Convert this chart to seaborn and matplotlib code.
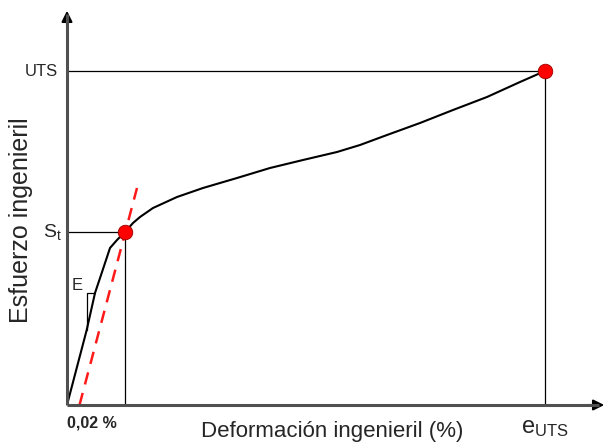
import numpy as np
import pandas as pd
import matplotlib
matplotlib.use("Agg")
import matplotlib.pyplot as plt
import seaborn as sns

# ---- data (arbitrary units) ----
strain = [0.0, 0.197, 0.28, 0.347, 0.43, 0.50, 0.58, 0.66, 0.73, 0.86, 1.10, 1.36, 1.70,
          2.03, 2.36, 2.70, 2.93, 3.20, 3.53, 3.86, 4.20, 4.53, 4.78]
stress = [0.0, 0.75, 1.12, 1.32, 1.57, 1.65, 1.73, 1.82, 1.88, 1.97, 2.08, 2.17, 2.27,
          2.37, 2.45, 2.53, 2.60, 2.70, 2.82, 2.95, 3.08, 3.23, 3.34]
key_names = ["St", "UTS"]
key_strain = [0.58, 4.78]
key_stress = [1.73, 3.34]
offset_x = [0.125, 0.70]
offset_y = [0.0, 2.17]
tri_x = [0.203, 0.203, 0.28]
tri_y = [0.75, 1.12, 1.12]

sns.set_style("white")
plt.rcParams['font.family'] = ['Liberation Sans', 'DejaVu Sans']
plt.rcParams['mathtext.fontset'] = 'custom'
plt.rcParams['mathtext.rm'] = 'Liberation Sans'

fig = plt.figure(figsize=(6.08, 4.45), dpi=100)
ax = fig.add_axes([67/608, 40/445, (607-67)/608, (405-8)/445])
ax.set_xlim(0, 5.40)
ax.set_ylim(0, 3.97)
for s in ax.spines.values():
    s.set_visible(False)
ax.set_xticks([])
ax.set_yticks([])

# guide lines
for xs, ys in zip(key_strain, key_stress):
    ax.plot([0, xs], [ys, ys], color='black', lw=0.9, zorder=2)
    ax.plot([xs, xs], [0, ys], color='black', lw=0.9, zorder=2)

# triangle for modulus
ax.plot(tri_x, tri_y, color='black', lw=0.9, zorder=2)

# 0.02% offset line
ax.plot(offset_x, offset_y, color='#ff1a1a', lw=1.8, dashes=(5, 3.5), zorder=3)

# curve
df = pd.DataFrame({"strain": strain, "stress": stress})
sns.lineplot(data=df, x="strain", y="stress", sort=False, estimator=None,
             color='black', lw=1.5, ax=ax, zorder=4)

# key points
kp = pd.DataFrame({"strain": key_strain, "stress": key_stress, "name": key_names})
sns.scatterplot(data=kp, x="strain", y="stress", color='red', s=110,
                edgecolor='#990000', linewidth=0.6, ax=ax, zorder=5)
ax.set_xlabel("")
ax.set_ylabel("")

# axes with arrows
ax.plot([0, 0], [0, 0.985], transform=ax.transAxes, color='#505050', lw=2.2,
        clip_on=False, zorder=6, solid_capstyle='butt')
ax.plot([0, 0.985], [0, 0], transform=ax.transAxes, color='#505050', lw=2.2,
        clip_on=False, zorder=6, solid_capstyle='butt')
ax.annotate('', xy=(0, 1.0), xytext=(0, 0.95), xycoords='axes fraction',
            arrowprops=dict(arrowstyle='-|>', color='black', lw=1.5, mutation_scale=16),
            annotation_clip=False)
ax.annotate('', xy=(1.0, 0), xytext=(0.96, 0), xycoords='axes fraction',
            arrowprops=dict(arrowstyle='-|>', color='black', lw=1.5, mutation_scale=16),
            annotation_clip=False)

# labels
ax.text(-0.09, key_stress[1], "UTS", ha='right', va='center', fontsize=12)
ax.text(-0.05, key_stress[0], r"$\mathregular{S_t}$", ha='right', va='center', fontsize=14)
ax.text(key_strain[1], -0.12, r"$\mathregular{e_{UTS}}$", ha='center', va='top', fontsize=17)
ax.text(0.16, 1.2, "E", ha='right', va='center', fontsize=12)
ax.text(0.0, -0.11, "0,02 %", ha='left', va='top', fontsize=11.5, fontweight='bold')
ax.text(2.65, -0.16, "Deformación ingenieril (%)", ha='center', va='top', fontsize=16)
fig.text(21/608, 1 - 220/445, "Esfuerzo ingenieril", rotation=90, ha='center',
         va='center', fontsize=18)

fig.savefig("out.png", dpi=100)
